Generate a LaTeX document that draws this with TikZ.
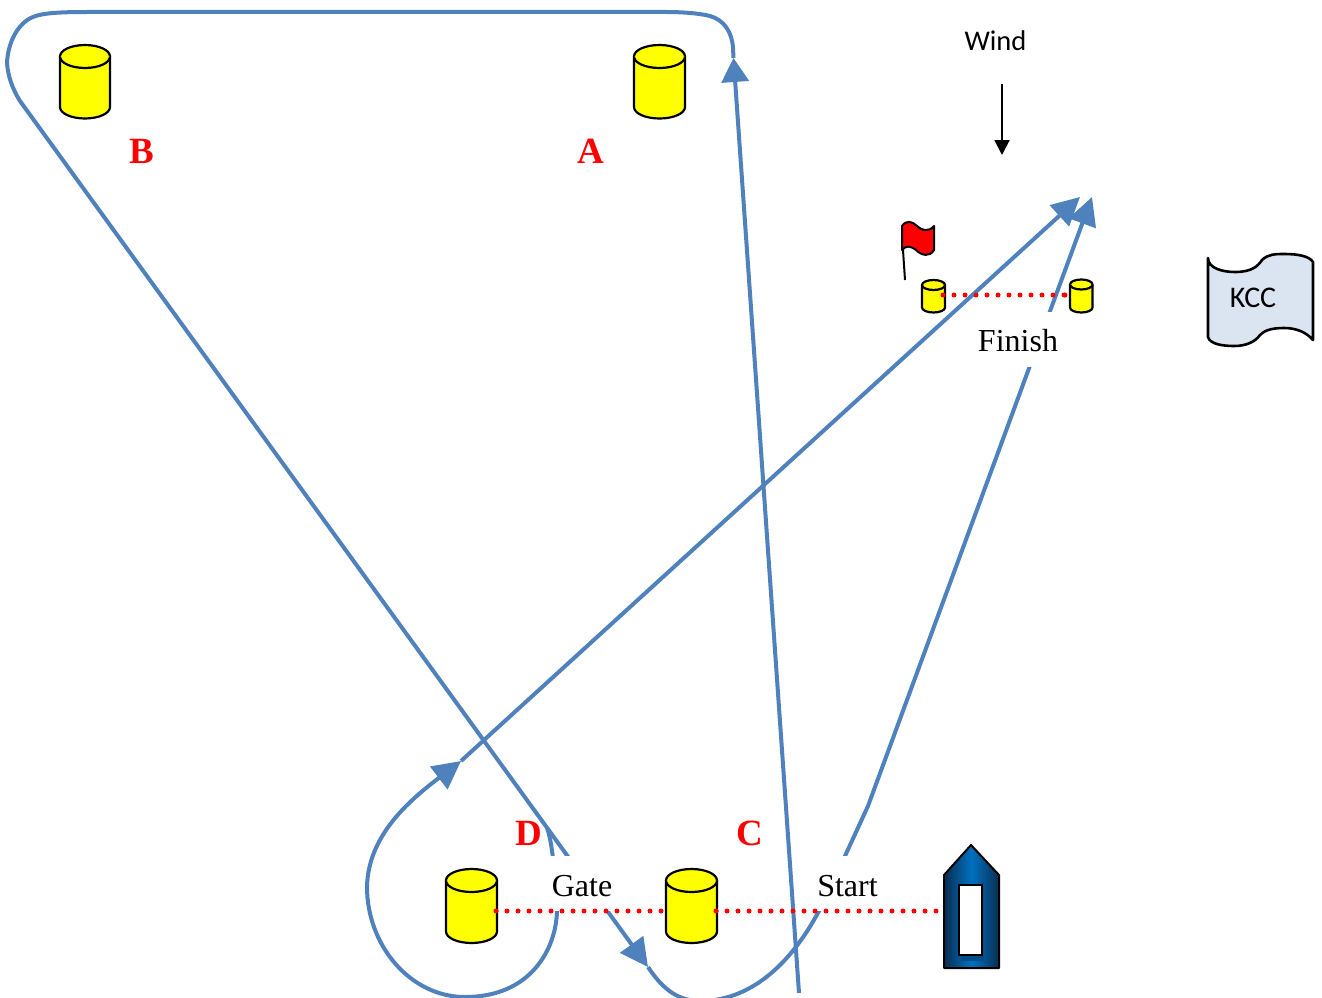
\documentclass[tikz,border=0pt]{standalone}
\usepackage{fontspec}
\setmainfont{Liberation Serif}
\newfontfamily\carlitofont{Carlito}
\usetikzlibrary{arrows.meta}
\definecolor{routeblue}{HTML}{4F81BD}
\definecolor{bannerblue}{HTML}{DBE5F1}
\definecolor{boatmid}{HTML}{0070C0}
\definecolor{boatedge}{HTML}{0A2E50}
\definecolor{buoyyellow}{HTML}{FFFF00}
\definecolor{markred}{HTML}{FF0000}
\tikzset{
  route/.style={draw=routeblue,line width=4pt},
  headed/.style={route,-{Triangle[length=28pt,width=28pt,fill=routeblue]}},
  shorthead/.style={route,-{Triangle[length=24pt,width=27pt,fill=routeblue]}},
  gapped/.style={fill=white,inner sep=0pt,minimum width=#1,minimum height=55pt,font=\fontsize{32}{32}\selectfont},
  course/.style={text=markred,font=\fontsize{37}{37}\selectfont\bfseries},
  sailline/.style={draw=markred,line width=5pt,line cap=round,dash pattern=on 0pt off 11pt},
  buoy/.style={draw=black,line width=2.2pt,fill=buoyyellow,line join=round},
  sans/.style={font=\fontsize{28.5}{28.5}\selectfont\carlitofont},
  sansbig/.style={font=\fontsize{30}{30}\selectfont\carlitofont}
}
\newcommand{\lowered}[1]{\raisebox{-12.5pt}[0pt][0pt]{#1}}
% left, top, right, bottom, ellipse half-height
\newcommand{\drum}[5]{%
  \path[buoy] (#1,#2+#5) -- (#1,#4-#5)
    .. controls (#1,#4-0.45*#5) and ({#1+0.22*(#3-#1)},#4) .. ({(#1+#3)/2},#4)
    .. controls ({#3-0.22*(#3-#1)},#4) and (#3,#4-0.45*#5) .. (#3,#4-#5)
    -- (#3,#2+#5)
    .. controls (#3,#2+0.45*#5) and ({#3-0.22*(#3-#1)},#2) .. ({(#1+#3)/2},#2)
    .. controls ({#1+0.22*(#3-#1)},#2) and (#1,#2+0.45*#5) .. (#1,#2+#5) -- cycle;
  \path[buoy] (#1,#2+#5)
    .. controls (#1,#2+1.55*#5) and ({#1+0.22*(#3-#1)},#2+2*#5) .. ({(#1+#3)/2},#2+2*#5)
    .. controls ({#3-0.22*(#3-#1)},#2+2*#5) and (#3,#2+1.55*#5) .. (#3,#2+#5);
}
\begin{document}
\begin{tikzpicture}[x=1pt,y=-1pt]
\useasboundingbox (0,0) rectangle (1322,998);

% free ends of the routes
\coordinate (startA) at (799,993);
\coordinate (tipA) at (733.5,58);
\coordinate (topR) at (667,12);
\coordinate (topL) at (87,12);
\coordinate (cornerB) at (20,101);
\coordinate (tipGate) at (648,967);
\coordinate (bottomC) at (700,1001);
\coordinate (crossStart) at (819,911);
\coordinate (kink) at (868,806);
\coordinate (tipFinish2) at (1092,197);
\coordinate (loopIn) at (547,828);
\coordinate (crossGate) at (557,911);
\coordinate (loopBottom) at (465,997);
\coordinate (loopLeft) at (367,887);
\coordinate (tipLoop) at (461,761);
\coordinate (tipFinish1) at (1080,197);
\coordinate (windTop) at (1002,84);
\coordinate (windTip) at (1002,155);
\coordinate (gateL) at (496,911);
\coordinate (gateR) at (662,911);
\coordinate (lineL) at (716,911);
\coordinate (lineR) at (938,911);
\coordinate (finL) at (943,295);
\coordinate (finR) at (1065,295);
\coordinate (poleFoot) at (905,280);
\coordinate (poleHead) at (903,250);

% routes
\draw[shorthead] (startA) -- (tipA);
\draw[headed] (tipA) -- (733,48)
  .. controls (732,32) and (724,20) .. (710,16)
  .. controls (698,13) and (680,12) .. (topR)
  -- (topL)
  .. controls (60,12) and (42,13) .. (33,17)
  .. controls (18,23) and (8,42) .. (7,63)
  .. controls (8,76) and (12,88) .. (cornerB)
  -- (tipGate);
\draw[headed] (tipGate)
  .. controls (660,985) and (675,1001) .. (bottomC)
  .. controls (750,1001) and (790,965) .. (crossStart)
  .. controls (830,890) and (840,868) .. (845,856)
  -- (kink) -- (tipFinish2);
\draw[headed] (loopIn)
  .. controls (552,840) and (556,880) .. (crossGate)
  .. controls (556,950) and (530,997) .. (loopBottom)
  .. controls (410,997) and (367,945) .. (loopLeft)
  .. controls (368,835) and (410,800) .. (tipLoop);
\draw[headed] (tipLoop) -- (tipFinish1);

% labels that interrupt the routes
\node[gapped=85pt] (finish) at (1018,339) {\lowered{Finish}};
\node[gapped=72pt] (gate) at (582,883.5) {\lowered{Gate}};
\node[gapped=85pt] (start) at (847.5,883.5) {\lowered{Start}};

\node[course] (labB) at (142,151) {B};
\node[course] (labA) at (591,151) {A};
\node[course] (labD) at (529,833) {D};
\node[course] (labC) at (750,833) {C};

% wind
\node[sans] (wind) at (995.5,41) {Wind};
\draw[line width=2pt,-{Triangle[length=15pt,width=15pt]}] (windTop) -- (windTip);

% lines
\draw[sailline] (gateL) -- (gateR);
\draw[sailline] (lineL) -- (lineR);
\draw[sailline] (finL) -- (finR);

% buoys
\drum{60}{45}{110}{118.5}{11.5}
\drum{634}{45}{685}{118.5}{11.5}
\drum{446}{869}{497}{943}{11.5}
\drum{666}{869}{717}{943}{11.5}
\drum{922}{280}{945}{312.5}{5}
\drum{1070}{279.5}{1092.5}{312.5}{5}
\fill[markred] (gateL) circle[radius=2.5pt];
\fill[markred] (lineL) circle[radius=2.5pt];
\fill[markred] (finL) circle[radius=2.5pt];
\fill[markred] (finR) circle[radius=2.5pt];

% flag
\draw[black,line width=2pt] (poleFoot) -- (poleHead);
\path[draw=black,line width=2pt,fill=markred,line join=round] (902,226)
  .. controls (906,220) and (912,221) .. (917,226)
  .. controls (922,231) and (929,232) .. (934,226)
  -- (934,250)
  .. controls (930,257) and (922,256) .. (916,250)
  .. controls (911,246) and (906,245) .. (902,250) -- cycle;

% boat
\path[draw=black,line width=2pt,left color=boatedge,right color=boatedge,middle color=boatmid,line join=round]
  (971,845) -- (999,875) -- (999,968) -- (944,968) -- (944,875) -- cycle;
\fill[boatmid!70!black] (961,950) rectangle (984,961);
\path[draw=black,line width=2.6pt,fill=white] (959,885) rectangle (982,955);

% banner
\path[draw=black,line width=2.6pt,fill=bannerblue,line join=round] (1208,258)
  .. controls (1208,268) and (1222,272) .. (1235,272)
  .. controls (1252,272) and (1258,266) .. (1262,260)
  .. controls (1268,254) and (1276,254) .. (1284,254)
  .. controls (1298,254) and (1309,256) .. (1313,262)
  -- (1313,340)
  .. controls (1306,332) and (1296,328) .. (1284,328)
  .. controls (1270,328) and (1264,331) .. (1260,335)
  .. controls (1255,342) and (1246,346) .. (1234,346)
  .. controls (1222,346) and (1210,344) .. (1208,337)
  -- cycle;
\node[sansbig,text=black] (kcc) at (1253,298) {KCC};
\end{tikzpicture}
\end{document}
